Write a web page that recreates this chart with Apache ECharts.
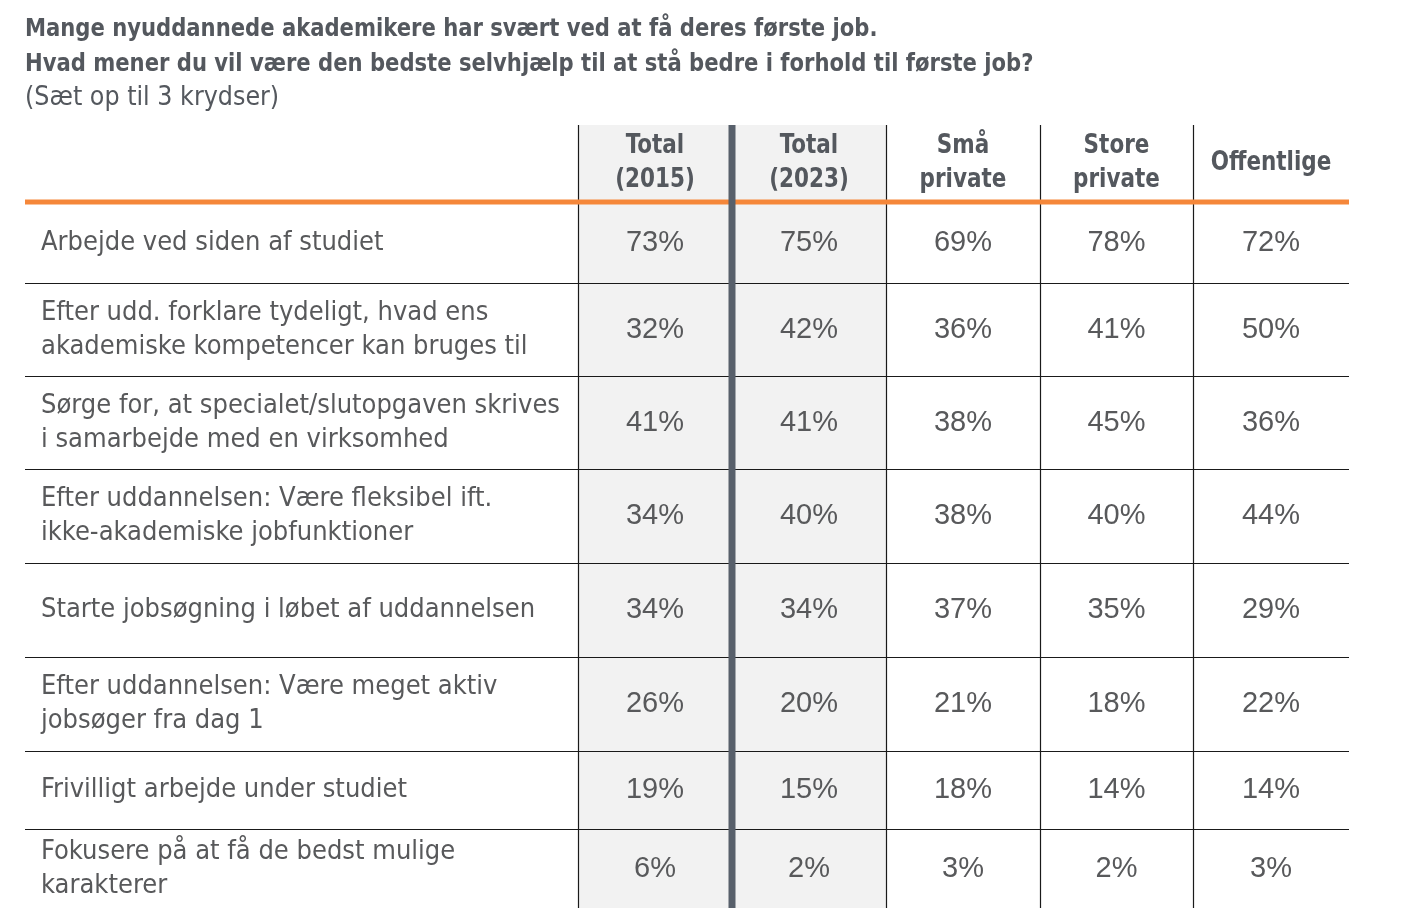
<!DOCTYPE html>
<html><head><meta charset="utf-8">
<script src="https://cdn.jsdelivr.net/npm/echarts@6/dist/echarts.min.js"></script>
<style>html,body{margin:0;padding:0;background:#fff}#chart{width:1402px;height:912px}</style>
</head><body><div id="chart"></div>
<script>
// ---- data ----
const titleLines = [
  "Mange nyuddannede akademikere har svært ved at få deres første job.",
  "Hvad mener du vil være den bedste selvhjælp til at stå bedre i forhold til første job?"
];
const subtitle = "(Sæt op til 3 krydser)";
const columns = ["Total\n(2015)", "Total\n(2023)", "Små\nprivate", "Store\nprivate", "Offentlige"];
const rowLabels = [
  "Arbejde ved siden af studiet",
  "Efter udd. forklare tydeligt, hvad ens\nakademiske kompetencer kan bruges til",
  "Sørge for, at specialet/slutopgaven skrives\ni samarbejde med en virksomhed",
  "Efter uddannelsen: Være fleksibel ift.\nikke-akademiske jobfunktioner",
  "Starte jobsøgning i løbet af uddannelsen",
  "Efter uddannelsen: Være meget aktiv\njobsøger fra dag 1",
  "Frivilligt arbejde under studiet",
  "Fokusere på at få de bedst mulige\nkarakterer"
];
const total2015    = [73, 32, 41, 34, 34, 26, 19, 6];
const total2023    = [75, 42, 41, 40, 34, 20, 15, 2];
const smaPrivate   = [69, 36, 38, 38, 37, 21, 18, 3];
const storePrivate = [78, 41, 45, 40, 35, 18, 14, 2];
const offentlige   = [72, 50, 36, 44, 29, 22, 14, 3];

// ---- layout (not data) ----
const colWidths = [553, 154, 154, 154, 153, 156];
const headerHeight = 77;
const rowHeights = [81, 93, 93, 94, 94, 94, 78, 79];

const valueSeries = [total2015, total2023, smaPrivate, storePrivate, offentlige];
const colEdges = [0]; colWidths.forEach(w => colEdges.push(colEdges[colEdges.length - 1] + w));
const rowEdges = [0, headerHeight]; rowHeights.forEach(h => rowEdges.push(rowEdges[rowEdges.length - 1] + h));
const totalW = colEdges[colEdges.length - 1], totalH = rowEdges[rowEdges.length - 1];

const NARROW = "'DejaVu Sans Condensed', 'Liberation Sans Narrow', sans-serif";
const VALFONT = "'Liberation Sans', Arial, sans-serif";
const TXT = '#58595b';
const HEAD = '#54585e';

// cells
const cellData = [], cellInfo = [];
columns.forEach((t, i) => { cellData.push([i + 1, 0]); cellInfo.push({text: t, kind: 'head'}); });
rowLabels.forEach((t, r) => {
  cellData.push([0, r + 1]); cellInfo.push({text: t, kind: 'label'});
  valueSeries.forEach((s, c) => { cellData.push([c + 1, r + 1]); cellInfo.push({text: s[r] + '%', kind: 'val'}); });
});

function cellRenderer(params, api) {
  const c = api.value(0), r = api.value(1);
  const p0 = api.coord([colEdges[c], rowEdges[r]]);
  const p1 = api.coord([colEdges[c + 1], rowEdges[r + 1]]);
  const info = cellInfo[params.dataIndex];
  const cy = (p0[1] + p1[1]) / 2;
  if (info.kind === 'label') {
    return {type: 'text', x: p0[0] + 16, y: cy, style: {text: info.text, x: 0, y: 0, align: 'left', verticalAlign: 'middle',
      fontFamily: NARROW, fontSize: 27, lineHeight: 34, fill: TXT}};
  }
  if (info.kind === 'head') {
    return {type: 'text', x: (p0[0] + p1[0]) / 2, y: cy, scaleX: 0.92, style: {text: info.text, x: 0, y: 0, align: 'center', verticalAlign: 'middle',
      fontFamily: NARROW, fontWeight: 'bold', fontSize: 26, lineHeight: 34, fill: HEAD}};
  }
  return {type: 'text', x: (p0[0] + p1[0]) / 2, y: cy, style: {text: info.text, x: 0, y: 0, align: 'center', verticalAlign: 'middle',
    fontFamily: VALFONT, fontSize: 29, fill: TXT}};
}

// gray columns
const grayCols = [[1], [2]];
function grayRenderer(params, api) {
  const c = api.value(0);
  const p0 = api.coord([colEdges[c], 0]);
  const p1 = api.coord([colEdges[c + 1], totalH]);
  return {type: 'rect', shape: {x: p0[0], y: p0[1], width: p1[0] - p0[0], height: p1[1] - p0[1]}, style: {fill: '#f2f2f2'}};
}

// lines
const hLines = [], vLines = [];
for (let i = 2; i < rowEdges.length - 1; i++) hLines.push([rowEdges[i]]);
[1, 3, 4, 5].forEach(i => vLines.push([colEdges[i]]));
function hRenderer(params, api) {
  const y = api.value(0);
  const a = api.coord([0, y]), b = api.coord([totalW, y]);
  const yy = Math.round(a[1]) + 0.5;
  return {type: 'line', shape: {x1: a[0], y1: yy, x2: b[0], y2: yy}, style: {stroke: '#1a1a1a', lineWidth: 1.2}};
}
function vRenderer(params, api) {
  const x = api.value(0);
  const a = api.coord([x, 0]), b = api.coord([x, totalH]);
  const xx = Math.round(a[0]) + 0.5;
  return {type: 'line', shape: {x1: xx, y1: a[1], x2: xx, y2: b[1]}, style: {stroke: '#1a1a1a', lineWidth: 1.2}};
}
function orangeRenderer(params, api) {
  const a = api.coord([0, rowEdges[1]]), b = api.coord([totalW, rowEdges[1]]);
  return {type: 'line', shape: {x1: a[0], y1: a[1], x2: b[0], y2: b[1]}, style: {stroke: '#f5873a', lineWidth: 5}};
}
function thickRenderer(params, api) {
  const a = api.coord([colEdges[2], 0]), b = api.coord([colEdges[2], totalH]);
  return {type: 'line', shape: {x1: a[0], y1: a[1], x2: b[0], y2: b[1]}, style: {stroke: '#58606b', lineWidth: 7}};
}

const chart = echarts.init(document.getElementById('chart'));
chart.setOption({
  animation: false,
  backgroundColor: '#ffffff',
  graphic: [
    {type: 'text', x: 25, y: 29, scaleX: 0.94, silent: true,
      style: {text: titleLines[0], x: 0, y: 0, verticalAlign: 'middle', fontFamily: NARROW, fontWeight: 'bold', fontSize: 25, fill: HEAD}},
    {type: 'text', x: 25, y: 64, scaleX: 0.94, silent: true,
      style: {text: titleLines[1], x: 0, y: 0, verticalAlign: 'middle', fontFamily: NARROW, fontWeight: 'bold', fontSize: 25, fill: HEAD}},
    {type: 'text', x: 25, y: 98, scaleX: 1.02, silent: true,
      style: {text: subtitle, x: 0, y: 0, verticalAlign: 'middle', fontFamily: NARROW, fontSize: 26, fill: HEAD}}
  ],
  grid: {left: 25, right: 53, top: 125, bottom: 4},
  xAxis: {type: 'value', min: 0, max: totalW, show: false},
  yAxis: {type: 'value', min: 0, max: totalH, inverse: true, show: false},
  series: [
    {type: 'custom', data: grayCols, renderItem: grayRenderer, z: 1, silent: true},
    {type: 'custom', data: hLines, renderItem: hRenderer, z: 2, silent: true},
    {type: 'custom', data: vLines, renderItem: vRenderer, z: 3, silent: true},
    {type: 'custom', data: [[0]], renderItem: orangeRenderer, z: 4, silent: true},
    {type: 'custom', data: [[0]], renderItem: thickRenderer, z: 5, silent: true},
    {type: 'custom', data: cellData, renderItem: cellRenderer, z: 6, silent: true}
  ]
});
</script></body></html>
